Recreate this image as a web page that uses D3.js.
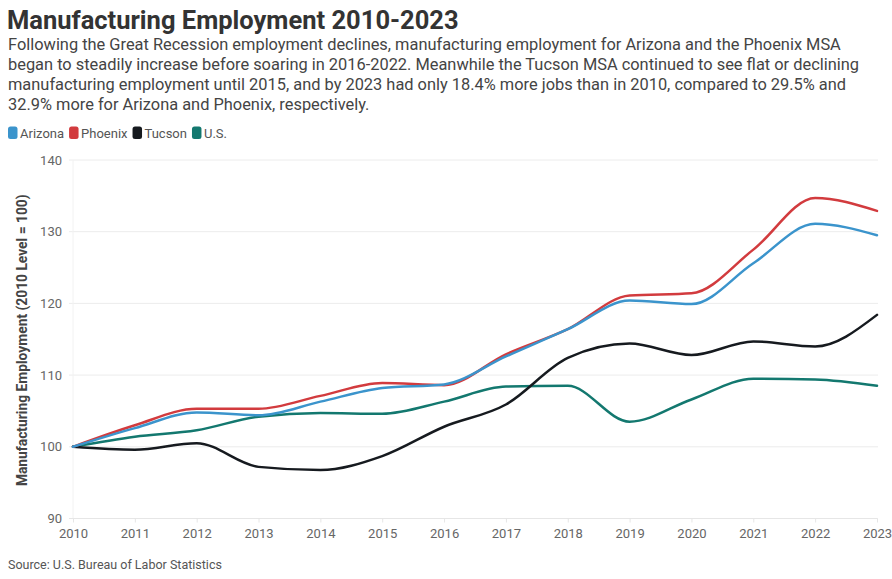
<!DOCTYPE html>
<html>
<head>
<meta charset="utf-8">
<script src="https://cdn.jsdelivr.net/npm/d3@7"></script>
<style>
  body { margin: 0; background: #fff; }
  svg text { font-family: Roboto, "Noto Sans", sans-serif; }
</style>
</head>
<body>
<svg id="chart" width="892" height="579"></svg>
<script>
// Index values, 2010 level = 100
const years = [2010, 2011, 2012, 2013, 2014, 2015, 2016, 2017, 2018, 2019, 2020, 2021, 2022, 2023];
const arizona = [100, 102.6, 104.8, 104.4, 106.3, 108.2, 108.7, 112.6, 116.4, 120.4, 119.9, 125.6, 131.1, 129.5];
const phoenix = [100, 103.0, 105.3, 105.3, 107.1, 108.9, 108.6, 112.9, 116.4, 121.1, 121.4, 127.5, 134.7, 132.9];
const tucson  = [100, 99.6, 100.5, 97.2, 96.75, 98.7, 102.8, 105.9, 112.4, 114.4, 112.8, 114.7, 114.0, 118.4];
const us      = [100, 101.4, 102.3, 104.2, 104.7, 104.6, 106.3, 108.4, 108.5, 103.5, 106.6, 109.5, 109.4, 108.5];

const seriesNames = ["Arizona", "Phoenix", "Tucson", "U.S."];
const seriesValues = [arizona, phoenix, tucson, us];
const seriesColors = ["#3b94cc", "#d23b3e", "#161a1f", "#13786f"];
// drawing order: U.S. and Tucson underneath, Phoenix over Arizona
const drawOrder = [3, 2, 1, 0];

const yTicks = [90, 100, 110, 120, 130, 140];

const title = "Manufacturing Employment 2010-2023";
const subtitle = [
  "Following the Great Recession employment declines, manufacturing employment for Arizona and the Phoenix MSA",
  "began to steadily increase before soaring in 2016-2022. Meanwhile the Tucson MSA continued to see flat or declining",
  "manufacturing employment until 2015, and by 2023 had only 18.4% more jobs than in 2010, compared to 29.5% and",
  "32.9% more for Arizona and Phoenix, respectively."
];
const yTitle = "Manufacturing Employment (2010 Level = 100)";
const source = "Source: U.S. Bureau of Labor Statistics";

const svg = d3.select("#chart");

// Heading block
svg.append("text")
  .attr("x", 7).attr("y", 29)
  .attr("font-size", 25.5).attr("font-weight", 700)
  .attr("fill", "#333")
  .text(title);

svg.append("g").selectAll("text")
  .data(subtitle)
  .join("text")
  .attr("x", 8)
  .attr("y", (d, i) => 50 + i * 20)
  .attr("font-size", 16.4)
  .attr("fill", "#444")
  .text(d => d);

// Legend
const legend = svg.append("g").attr("transform", "translate(8,133)");
let lx = 0;
seriesNames.forEach((name, i) => {
  const g = legend.append("g").attr("transform", `translate(${lx},0)`);
  g.append("rect")
    .attr("x", 0).attr("y", -6.5)
    .attr("width", 9.5).attr("height", 12.5)
    .attr("rx", 2.5)
    .attr("fill", seriesColors[i]);
  const t = g.append("text")
    .attr("x", 12).attr("y", 4.5)
    .attr("font-size", 13)
    .attr("fill", "#555")
    .text(name);
  lx += 12 + t.node().getComputedTextLength() + 5;
});

// Plot area
const x = d3.scaleLinear().domain([2010, 2023]).range([73, 877]);
const y = d3.scaleLinear().domain([90, 140]).range([518.5, 160]);

// Horizontal gridlines
svg.append("g").selectAll("line")
  .data(yTicks)
  .join("line")
  .attr("x1", 69).attr("x2", 878)
  .attr("y1", d => y(d)).attr("y2", d => y(d))
  .attr("stroke", "#ececec").attr("stroke-width", 1);

// faint vertical axis line
svg.append("line")
  .attr("x1", 73).attr("x2", 73)
  .attr("y1", y(140)).attr("y2", y(90))
  .attr("stroke", "#f2f2f2");

// Y axis labels
const yAxis = d3.axisLeft(y).tickValues(yTicks).tickSize(0).tickPadding(0);
const yg = svg.append("g").attr("transform", "translate(62,0)").call(yAxis);
yg.select(".domain").remove();
yg.selectAll("text")
  .attr("font-size", 13).attr("fill", "#666")
  .attr("font-family", "Roboto, sans-serif");

// X axis
const xAxis = d3.axisBottom(x).tickValues(years).tickFormat(d3.format("d")).tickSize(4).tickPadding(6);
const xg = svg.append("g").attr("transform", `translate(0,${y(90)})`).call(xAxis);
xg.select(".domain").attr("stroke", "#e6e6e6").attr("d", `M${x(2010) - 4},0H${x(2023)}`);
xg.selectAll(".tick line").attr("stroke", "#e6e6e6");
xg.selectAll("text")
  .attr("font-size", 13).attr("fill", "#666")
  .attr("font-family", "Roboto, sans-serif");

// Y axis title
svg.append("text")
  .attr("transform", `translate(27,${(y(90) + y(140)) / 2 + 1}) rotate(-90)`)
  .attr("text-anchor", "middle")
  .attr("font-size", 13.8).attr("font-weight", 700)
  .attr("fill", "#444")
  .text(yTitle);

// Lines
const line = d3.line()
  .x((d, i) => x(years[i]))
  .y(d => y(d))
  .curve(d3.curveMonotoneX);

svg.append("g").selectAll("path")
  .data(drawOrder)
  .join("path")
  .attr("d", i => line(seriesValues[i]))
  .attr("fill", "none")
  .attr("stroke", i => seriesColors[i])
  .attr("stroke-width", 2.5)
  .attr("stroke-linejoin", "round")
  .attr("stroke-linecap", "round");

// Source note
svg.append("text")
  .attr("x", 8).attr("y", 569)
  .attr("font-size", 12.5)
  .attr("fill", "#555")
  .text(source);
</script>
</body>
</html>
